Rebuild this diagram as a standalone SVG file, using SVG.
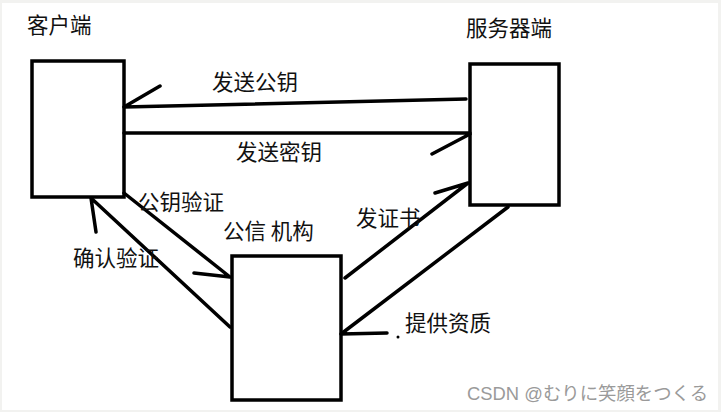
<svg xmlns="http://www.w3.org/2000/svg" width="721" height="412" viewBox="0 0 721 412">
<style>
.box{fill:#fff;stroke:#000;stroke-width:3.5}
.ln{fill:none;stroke:#000;stroke-width:3.5;stroke-linecap:round;stroke-linejoin:round}
.t{font-family:"Noto Sans CJK SC","Liberation Serif",serif;font-size:21.5px;fill:#111}
.wm{font-family:"Liberation Sans","Noto Sans CJK JP",sans-serif;font-size:18.4px;fill:#9a9a9a}
</style>
<rect x="0" y="0" width="721" height="412" fill="#f2f2f0"/>
<rect x="2" y="3" width="716" height="407" fill="#fff"/>
<g id="client">
<rect class="box" x="32" y="61" width="92" height="136"/>
<text class="t" x="27" y="33">客户端</text>
</g>
<g id="server">
<rect class="box" x="470" y="64" width="89" height="141"/>
<text class="t" x="466" y="36">服务器端</text>
</g>
<g id="ca">
<rect class="box" x="232" y="256" width="109" height="144"/>
<text class="t" x="223" y="239">公信 机构</text>
</g>
<g id="connectors">
<path class="ln" d="M466 99 L124 107 M124 107 L160 86"/>
<text class="t" x="212" y="90">发送公钥</text>
<path class="ln" d="M124 133 L470 133 M470 134 L432 154"/>
<text class="t" x="236" y="160">发送密钥</text>
<path class="ln" d="M124 193 L230 277 M194 273 L230 277"/>
<text class="t" x="138" y="210">公钥验证</text>
<path class="ln" d="M230 327 L91 198 M91 198 L96 232"/>
<text class="t" x="73" y="266">确认验证</text>
<path class="ln" d="M345 278 L468 183 M468 183 L435 193"/>
<text class="t" x="356" y="226">发证书</text>
<path class="ln" d="M508 207 L341 334 M341 334 L387 333"/>
<text class="t" x="405" y="331">提供资质</text>
<circle cx="398" cy="337" r="1.5" fill="#000"/>
</g>
<text class="wm" x="467" y="400">CSDN @むりに笑顔をつくる</text>
</svg>
